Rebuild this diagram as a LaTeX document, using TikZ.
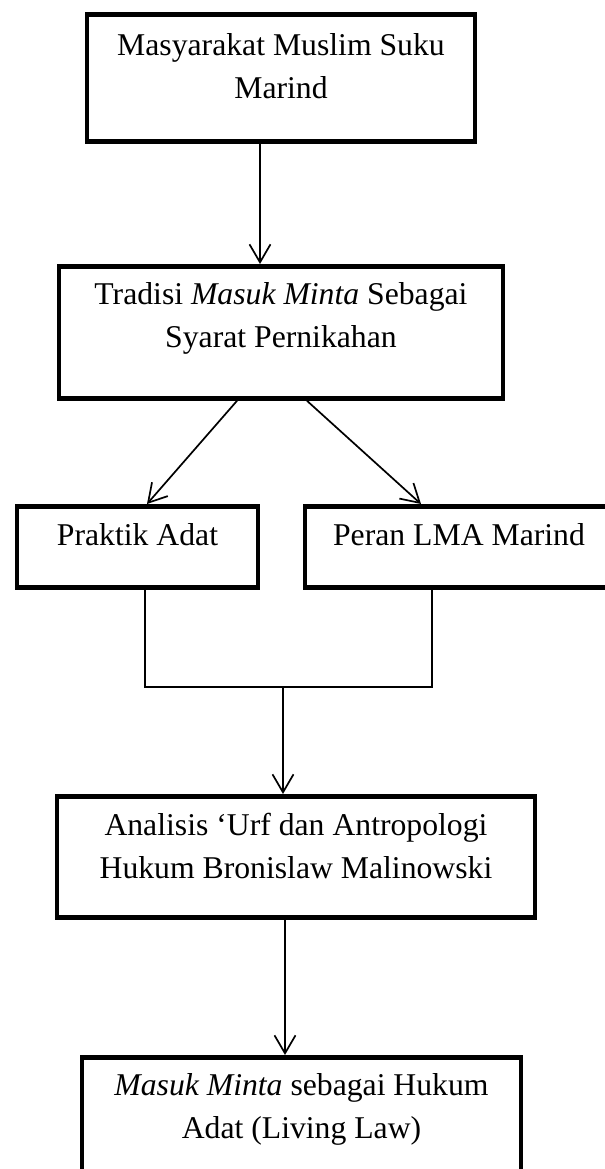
\documentclass[tikz,border=0pt]{standalone}
\usepackage{fontspec}
\setmainfont{Liberation Serif}
\usetikzlibrary{arrows.meta}

\begin{document}
\begin{tikzpicture}[
    x=0.5pt, y=-0.5pt,
    font=\fontsize{15.85}{21.5}\selectfont,
    kotak/.style={draw, line width=2.4pt, align=center, inner sep=0pt, anchor=north},
    panah/.style={-{Straight Barb[length=9pt,width=10.5pt]}, line width=0.85pt}
  ]
  \useasboundingbox (0,0) rectangle (605,1169);
  \clip (0,0) rectangle (605,1169);

  % boxes
  \node[kotak, minimum width=194pt, text height=42pt, text depth=21.5pt]
    (masyarakat) at (281,12) {Masyarakat Muslim Suku\\Marind};
  \node[kotak, minimum width=222pt, text height=40.5pt, text depth=25.5pt]
    (tradisi) at (281,264) {Tradisi \textit{Masuk Minta} Sebagai\\Syarat Pernikahan};
  \node[kotak, minimum width=120.5pt, text height=19.5pt, text depth=21pt]
    (praktik) at (137.5,504) {Praktik Adat};
  \node[kotak, minimum width=154pt, text height=19.5pt, text depth=21pt]
    (peran) at (459,504) {Peran LMA Marind};
  \node[kotak, minimum width=239pt, text height=41pt, text depth=19.5pt]
    (analisis) at (296,794) {Analisis ‘Urf dan Antropologi\\Hukum Bronislaw Malinowski};
  \node[kotak, minimum width=219.5pt, text height=40.5pt, text depth=28.5pt]
    (livinglaw) at (301.5,1055) {\textit{Masuk Minta} sebagai Hukum\\Adat (Living Law)};

  % connectors
  \draw[panah] ([xshift=-10.5pt]masyarakat.south) -- ([xshift=-10.5pt]masyarakat.south |- tradisi.north);
  \draw[panah] ([xshift=-22pt]tradisi.south) -- ([xshift=4.75pt]praktik.north);
  \draw[panah] ([xshift=13pt]tradisi.south) -- ([xshift=-19pt]peran.north);

  \coordinate (gabung) at (283,687);
  \draw[line width=0.75pt] ([xshift=3.75pt]praktik.south) |- (gabung)
    -| ([xshift=-13.5pt]peran.south);
  \draw[panah] (gabung) -- (gabung |- analisis.north);
  \draw[panah] ([xshift=-5.5pt]analisis.south) -- ([xshift=-5.5pt]analisis.south |- livinglaw.north);
\end{tikzpicture}
\end{document}
